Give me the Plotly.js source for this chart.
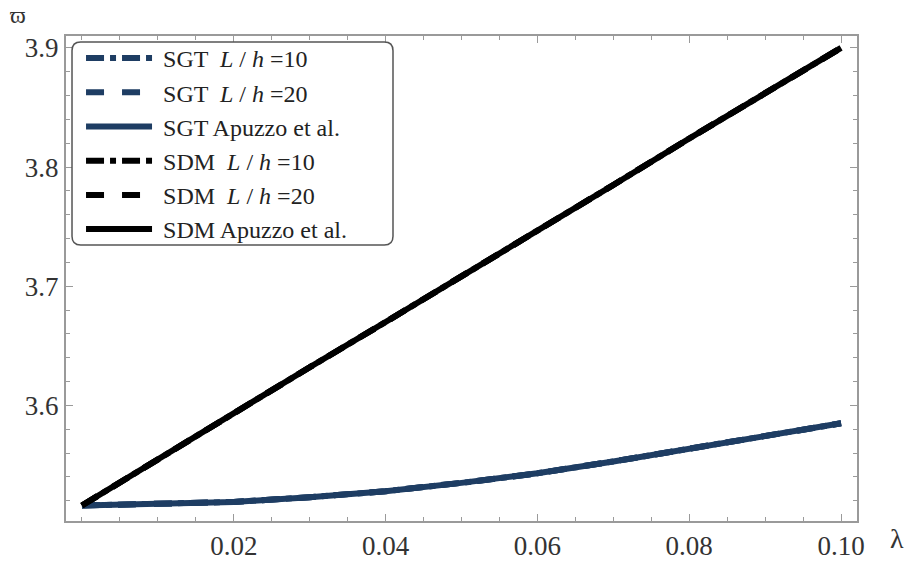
<!DOCTYPE html>
<html>
<head>
<meta charset="utf-8">
<script src="https://cdn.plot.ly/plotly-3.0.1.min.js"></script>
<style>
  html, body { margin: 0; padding: 0; background: #fff; }
  #chart { width: 912px; height: 567px; }
</style>
</head>
<body>
<div id="chart"></div>
<script>
// Dimensionless frequency vs. length-scale parameter λ
const lambda = [0, 0.01, 0.02, 0.03, 0.04, 0.05, 0.06, 0.07, 0.08, 0.09, 0.10];

// Strain gradient theory (SGT)
const sgtLh10   = [3.516, 3.517, 3.519, 3.523, 3.528, 3.535, 3.543, 3.553, 3.564, 3.574, 3.585];
const sgtLh20   = [3.516, 3.517, 3.519, 3.523, 3.528, 3.535, 3.543, 3.553, 3.564, 3.574, 3.585];
const sgtApuzzo = [3.516, 3.517, 3.519, 3.523, 3.528, 3.535, 3.543, 3.553, 3.564, 3.574, 3.585];

// Stress-driven model (SDM)
const sdmLh10   = [3.516, 3.555, 3.593, 3.632, 3.670, 3.708, 3.747, 3.785, 3.824, 3.862, 3.900];
const sdmLh20   = [3.516, 3.555, 3.593, 3.632, 3.670, 3.708, 3.747, 3.785, 3.824, 3.862, 3.900];
const sdmApuzzo = [3.516, 3.555, 3.593, 3.632, 3.670, 3.708, 3.747, 3.785, 3.824, 3.862, 3.900];

const xTickVals = [0.02, 0.04, 0.06, 0.08, 0.10];
const xTickText = ['0.02', '0.04', '0.06', '0.08', '0.10'];
const yTickVals = [3.6, 3.7, 3.8, 3.9];
const yTickText = ['3.6', '3.7', '3.8', '3.9'];

const NAVY = '#1e3d63';
const BLACK = '#000000';
const SERIF = '"Liberation Serif", "Times New Roman", serif';
const NB = '\u00A0';

function series(y, name, color, dash, rank) {
  return {
    x: lambda, y: y, name: NB + name, type: 'scatter', mode: 'lines',
    legendrank: rank,
    line: { color: color, width: 6, dash: dash }
  };
}

// Solid curves are drawn first so the dashed ones sit on top of them
const traces = [
  series(sgtApuzzo, 'SGT Apuzzo et al.',             NAVY,  'solid',   3),
  series(sdmApuzzo, 'SDM Apuzzo et al.',             BLACK, 'solid',   6),
  series(sgtLh10,   'SGT  <i>L</i> / <i>h</i> =10',  NAVY,  'dashdot', 1),
  series(sgtLh20,   'SGT  <i>L</i> / <i>h</i> =20',  NAVY,  'dash',    2),
  series(sdmLh10,   'SDM  <i>L</i> / <i>h</i> =10',  BLACK, 'dashdot', 4),
  series(sdmLh20,   'SDM  <i>L</i> / <i>h</i> =20',  BLACK, 'dash',    5)
];

const frame = '#9a9a9a';
const axisCommon = {
  showgrid: false, zeroline: false,
  showline: true, linecolor: frame, linewidth: 2, mirror: 'ticks',
  ticks: 'inside', ticklen: 7, tickwidth: 1, tickcolor: frame,
  tickfont: { family: SERIF, size: 27, color: '#333' }
};

// Rounded legend frame, in paper coordinates
const lx0 = 0.0076, lx1 = 0.4134, ly0 = 0.569, ly1 = 0.9876, rx = 0.011, ry = 0.018;
const legendPath =
  `M ${lx0 + rx},${ly1} L ${lx1 - rx},${ly1} Q ${lx1},${ly1} ${lx1},${ly1 - ry} ` +
  `L ${lx1},${ly0 + ry} Q ${lx1},${ly0} ${lx1 - rx},${ly0} ` +
  `L ${lx0 + rx},${ly0} Q ${lx0},${ly0} ${lx0},${ly0 + ry} ` +
  `L ${lx0},${ly1 - ry} Q ${lx0},${ly1} ${lx0 + rx},${ly1} Z`;

const layout = {
  width: 912, height: 567,
  margin: { l: 66, r: 55, t: 36, b: 46 },
  paper_bgcolor: '#fff', plot_bgcolor: '#fff',
  font: { family: SERIF, color: '#222' },
  showlegend: true,
  legend: {
    x: 0.019, y: 1.0, xanchor: 'left', yanchor: 'top',
    bgcolor: 'rgba(0,0,0,0)', borderwidth: 0,
    font: { family: SERIF, size: 24, color: '#222' },
    itemwidth: 66, tracegroupgap: 0
  },
  xaxis: Object.assign({}, axisCommon, {
    range: [-0.0021, 0.1021],
    tickmode: 'array', tickvals: xTickVals, ticktext: xTickText,
    minor: { ticks: 'inside', dtick: 0.005, tick0: 0, ticklen: 4, tickcolor: frame, showgrid: false }
  }),
  yaxis: Object.assign({}, axisCommon, {
    range: [3.503, 3.910],
    tickmode: 'array', tickvals: yTickVals, ticktext: yTickText,
    minor: { ticks: 'inside', dtick: 0.02, tick0: 3.5, ticklen: 4, tickcolor: frame, showgrid: false }
  }),
  shapes: [{
    type: 'path', xref: 'paper', yref: 'paper', path: legendPath,
    fillcolor: '#ffffff', line: { color: '#555', width: 1.5 }, layer: 'above'
  }],
  annotations: [
    { text: 'ϖ', xref: 'paper', yref: 'paper', x: -0.061, y: 1.043,
      xanchor: 'center', yanchor: 'middle', showarrow: false,
      font: { family: SERIF, size: 24, color: '#333' } },
    { text: 'λ', xref: 'paper', yref: 'paper', x: 1.0506, y: -0.036,
      xanchor: 'center', yanchor: 'middle', showarrow: false,
      font: { family: SERIF, size: 28, color: '#333' } }
  ]
};

Plotly.newPlot('chart', traces, layout, { displayModeBar: false, staticPlot: true });
</script>
</body>
</html>
